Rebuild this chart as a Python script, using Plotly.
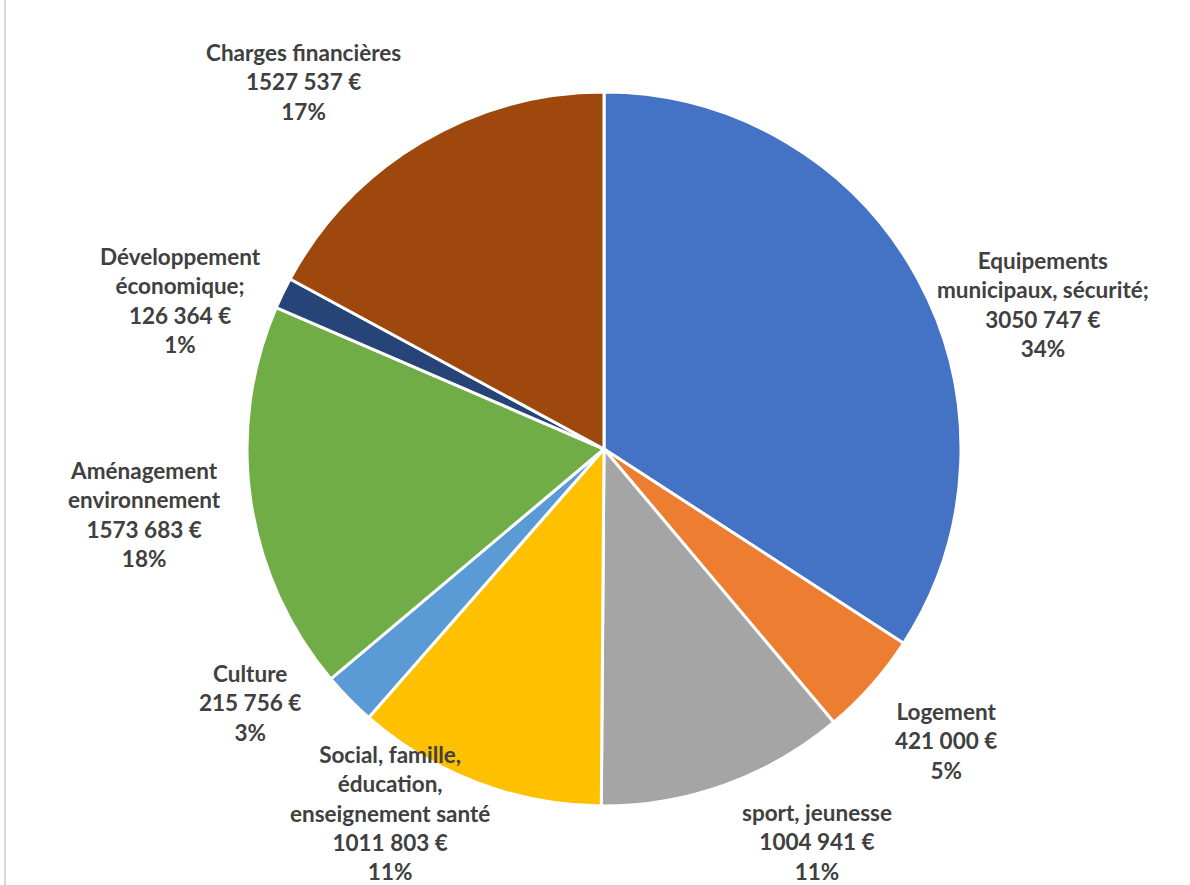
import plotly.graph_objects as go

# ---- data ----
categories = [
    "Equipements<br>municipaux, sécurité;",
    "Logement",
    "sport, jeunesse",
    "Social, famille,<br>éducation,<br>enseignement santé",
    "Culture",
    "Aménagement<br>environnement",
    "Développement<br>économique;",
    "Charges financières",
]
values = [3050747, 421000, 1004941, 1011803, 215756, 1573683, 126364, 1527537]
value_labels = ["3050 747 €", "421 000 €", "1004 941 €", "1011 803 €",
                "215 756 €", "1573 683 €", "126 364 €", "1527 537 €"]
pct_labels = ["34%", "5%", "11%", "11%", "3%", "18%", "1%", "17%"]

# ---- styles ----
colors = ["#4472C4", "#ED7D31", "#A5A5A5", "#FFC000",
          "#5B9BD5", "#70AD47", "#264478", "#9E480E"]
W, H = 1190, 885
cx, cy, r = 604, 449, 357
# label block centres in pixels (x, y)
label_px = [(1043, 304), (946, 741), (817, 842), (390, 813),
            (250, 703), (144, 514), (181, 300), (303, 82)]

fig = go.Figure(go.Pie(
    labels=[c.replace("<br>", " ") for c in categories],
    values=values,
    sort=False,
    direction="clockwise",
    rotation=0,
    marker=dict(colors=colors, line=dict(color="white", width=3)),
    textinfo="none",
    hoverinfo="label+value+percent",
    showlegend=False,
    domain=dict(x=[(cx - r) / W, (cx + r) / W],
                y=[(H - cy - r) / H, (H - cy + r) / H]),
))

for cat, val, pct, (px, py) in zip(categories, value_labels, pct_labels, label_px):
    fig.add_annotation(
        x=px / W, y=1 - py / H, xref="paper", yref="paper",
        text=f"<b>{cat}<br>{val}<br>{pct}</b>",
        showarrow=False, xanchor="center", yanchor="middle", align="center",
        font=dict(family="Lato", size=22.5, color="#404040"),
    )

fig.add_shape(type="line", xref="paper", yref="paper",
              x0=5 / W, x1=5 / W, y0=0, y1=1,
              line=dict(color="#D9D9D9", width=2))

fig.update_layout(
    width=W, height=H,
    margin=dict(l=0, r=0, t=0, b=0),
    paper_bgcolor="white", plot_bgcolor="white",
)

fig.write_html("out.html")
